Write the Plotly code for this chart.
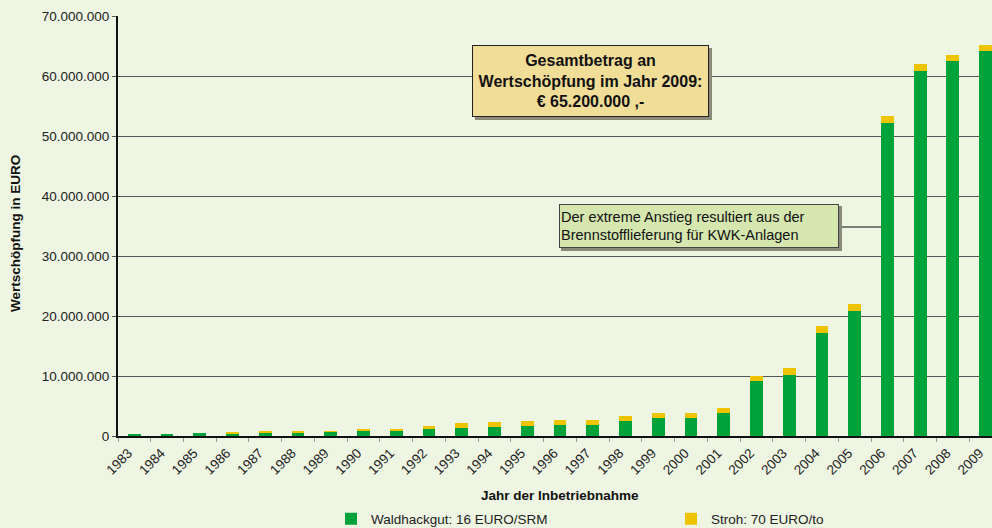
import plotly.graph_objects as go

years = [str(y) for y in range(1983, 2010)]
waldhackgut = [0.2, 0.38, 0.55, 0.45, 0.5, 0.5, 0.72, 0.9, 0.95, 1.22,
               1.4, 1.55, 1.7, 1.9, 1.9, 2.55, 2.95, 3.05, 3.8,
               9.2, 10.2, 17.2, 20.8, 52.2, 60.8, 62.5, 64.1]
stroh = [0.0, 0.0, 0.0, 0.15, 0.22, 0.22, 0.1, 0.15, 0.12, 0.45,
         0.7, 0.85, 0.8, 0.8, 0.8, 0.85, 0.85, 0.8, 0.8,
         0.85, 1.1, 1.1, 1.2, 1.1, 1.2, 1.0, 1.1]
waldhackgut = [v * 1e6 for v in waldhackgut]
stroh = [v * 1e6 for v in stroh]

y_ticks = [0, 10e6, 20e6, 30e6, 40e6, 50e6, 60e6, 70e6]

GREEN = "#00A23A"
YELLOW = "#EEC300"
BG = "#EEF5E2"
FONT = "Liberation Sans, Arial, sans-serif"

W, H = 992, 528
L, T = 118, 16
BOTTOM = 436
B = H - BOTTOM
pw = W - L
ph = BOTTOM - T
cat_w = 32.74
x_end = -0.5 + pw / cat_w


def px(xp):
    return (xp - L) / pw


def py(yp):
    return (BOTTOM - yp) / ph


fig = go.Figure()
fig.add_trace(go.Bar(x=years, y=waldhackgut, name="Waldhackgut: 16 EURO/SRM",
                     marker=dict(color=GREEN, line=dict(width=0)), legend="legend"))
fig.add_trace(go.Bar(x=years, y=stroh, name="Stroh: 70 EURO/to",
                     marker=dict(color=YELLOW, line=dict(width=0)), legend="legend2"))

leg_common = dict(orientation="h", xanchor="left", yanchor="middle",
                  font=dict(size=13.5, color="#222", family=FONT),
                  bgcolor="rgba(0,0,0,0)")

fig.update_layout(
    width=W, height=H,
    barmode="stack", bargap=0.61,
    paper_bgcolor=BG, plot_bgcolor=BG,
    margin=dict(l=L, r=0, t=T, b=B, autoexpand=False),
    separators=",.",
    font=dict(family=FONT, size=13, color="#111"),
    showlegend=True,
    legend=dict(x=px(331), y=py(519), **leg_common),
    legend2=dict(x=px(671), y=py(519), **leg_common),
    xaxis=dict(range=[-0.5, x_end], tickangle=-45, showgrid=False,
               showline=True, linecolor="#111", linewidth=2,
               ticks="outside", tickson="boundaries", ticklen=4, tickcolor="#999",
               tickfont=dict(size=13.5, color="#222"), automargin=False,
               ticklabelshift=-6, ticklabelstandoff=2, fixedrange=True),
    yaxis=dict(range=[0, 70e6], tickvals=y_ticks, tickformat=",d",
               showgrid=True, gridcolor="#555", gridwidth=1,
               showline=True, linecolor="#111", linewidth=2,
               ticks="outside", ticklen=4, tickcolor="#555",
               tickfont=dict(size=13.5, color="#222"), zeroline=False,
               automargin=False),
)

# axis titles
fig.add_annotation(text="<b>Wertschöpfung in EURO</b>", xref="paper", yref="paper",
                   x=px(16), y=py(234), textangle=-90,
                   showarrow=False, font=dict(size=13.5, color="#111"),
                   xanchor="center", yanchor="middle")
fig.add_annotation(text="<b>Jahr der Inbetriebnahme</b>", xref="paper", yref="paper",
                   x=px(560), y=py(495),
                   showarrow=False, font=dict(size=13.5, color="#111"),
                   xanchor="center", yanchor="middle")

# box 1 with shadow
fig.add_shape(type="rect", xref="paper", yref="paper",
              x0=px(475), x1=px(712), y0=py(120), y1=py(48),
              fillcolor="#8a8a7a", line=dict(width=0), layer="above")
fig.add_annotation(text="<b>Gesamtbetrag an<br>Wertschöpfung im Jahr 2009:<br>€ 65.200.000 ,-</b>",
                   xref="paper", yref="paper",
                   x=px(590.5), y=py(81),
                   showarrow=False, font=dict(size=16, color="#111"),
                   bgcolor="#F0DD98", bordercolor="#222", borderwidth=1,
                   width=233, height=68, align="center",
                   xanchor="center", yanchor="middle")

# box 2 with connector line and shadow
fig.add_shape(type="line", xref="paper", yref="paper",
              x0=px(839), x1=px(881), y0=py(227), y1=py(227),
              line=dict(color="#555", width=1.5))
fig.add_shape(type="rect", xref="paper", yref="paper",
              x0=px(561), x1=px(842), y0=py(251), y1=py(206),
              fillcolor="#8a8a7a", line=dict(width=0), layer="above")
fig.add_annotation(text="Der extreme Anstieg resultiert aus der<br>Brennstofflieferung für KWK-Anlagen",
                   xref="paper", yref="paper",
                   x=px(699), y=py(226),
                   showarrow=False, font=dict(size=14.5, color="#111"),
                   bgcolor="#D5E6AF", bordercolor="#444", borderwidth=1,
                   width=276, height=40, align="left",
                   xanchor="center", yanchor="middle")

fig.write_html(
    "out.html",
    config={"displayModeBar": False},
    post_script="document.documentElement.style.margin='0';"
                "document.body.style.margin='0';"
                "document.body.style.overflow='hidden';",
)
